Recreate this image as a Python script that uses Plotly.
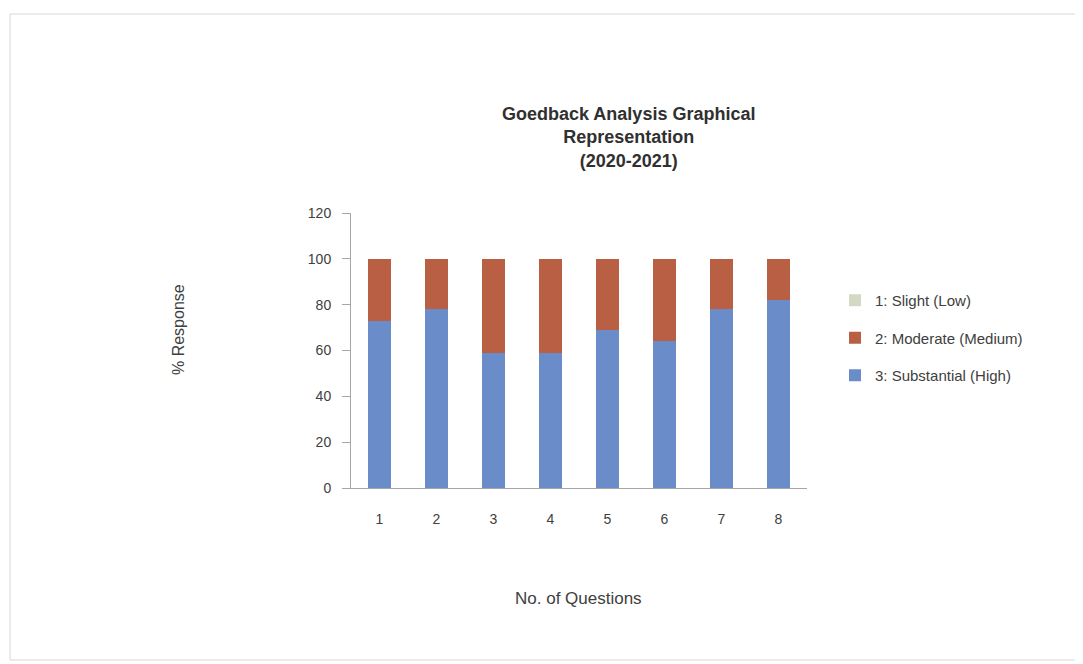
import plotly.graph_objects as go

questions = ["1", "2", "3", "4", "5", "6", "7", "8"]
substantial = [73, 78, 59, 59, 69, 64, 78, 82]
moderate = [27, 22, 41, 41, 31, 36, 22, 18]
slight = [0, 0, 0, 0, 0, 0, 0, 0]

series_names = ["3: Substantial (High)", "2: Moderate (Medium)", "1: Slight (Low)"]
series_values = [substantial, moderate, slight]
series_colors = ["#6A8CC9", "#B95F43", "#D3D9C4"]
series_ranks = [3, 2, 1]

font_family = "Liberation Sans, Arial, sans-serif"

# page body has an 8px margin; plot area target in screenshot pixels
OFF = 8
X0, X1, Y0, Y1 = 351, 807, 213, 488  # left, right, top, bottom (screenshot px)
W, H = 1083, 664
pw, ph = X1 - X0, Y1 - Y0


def px(x):
    return (x - X0) / pw


def py(y):
    return (Y1 - y) / ph


fig = go.Figure()
for i, (name, vals, col, rk) in enumerate(zip(series_names, series_values, series_colors, series_ranks)):
    fig.add_trace(go.Bar(
        x=questions, y=vals, name=name, marker_color=col,
        marker_line_width=0, legendgroup=f"g{i}", legendrank=rk,
    ))

fig.update_layout(
    width=W, height=H,
    barmode="stack", bargap=0.6,
    paper_bgcolor="white", plot_bgcolor="white",
    margin=dict(l=X0 - OFF, r=W - (X1 - OFF), t=Y0 - OFF, b=H - (Y1 - OFF)),
    font=dict(family=font_family, size=14, color="#404040"),
    showlegend=True,
    legend=dict(
        x=px(835), y=py(284), xanchor="left", yanchor="top",
        traceorder="grouped", tracegroupgap=15,
        font=dict(size=15, color="#404040"),
    ),
    annotations=[
        dict(text="<b>Goedback Analysis Graphical<br>Representation<br>(2020-2021)</b>",
             x=px(628), y=py(137), xref="paper", yref="paper",
             xanchor="center", yanchor="middle",
             showarrow=False, font=dict(size=18, color="#303030"), align="center"),
        dict(text="% Response", x=px(178), y=py(330), xref="paper", yref="paper",
             xanchor="center", yanchor="middle",
             showarrow=False, textangle=-90, font=dict(size=16, color="#404040")),
        dict(text="No. of Questions", x=px(578), y=py(598), xref="paper", yref="paper",
             xanchor="center", yanchor="middle",
             showarrow=False, font=dict(size=17, color="#404040")),
    ],
)

fig.update_yaxes(range=[0, 120], dtick=20, showgrid=False, zeroline=False,
                 showline=True, linecolor="#A6A6A6", ticks="outside",
                 ticklen=8, tickcolor="#A6A6A6", ticklabelstandoff=8,
                 tickfont=dict(size=14, color="#404040"))
fig.update_xaxes(showgrid=False, showline=True, linecolor="#A6A6A6",
                 ticks="", ticklabelstandoff=18,
                 tickfont=dict(size=14, color="#404040"))

fig.add_shape(type="rect", xref="paper", yref="paper",
              x0=px(10), x1=px(1079), y0=py(660), y1=py(14),
              line=dict(color="#D8D8D8", width=1))

fig.write_html("out.html")
